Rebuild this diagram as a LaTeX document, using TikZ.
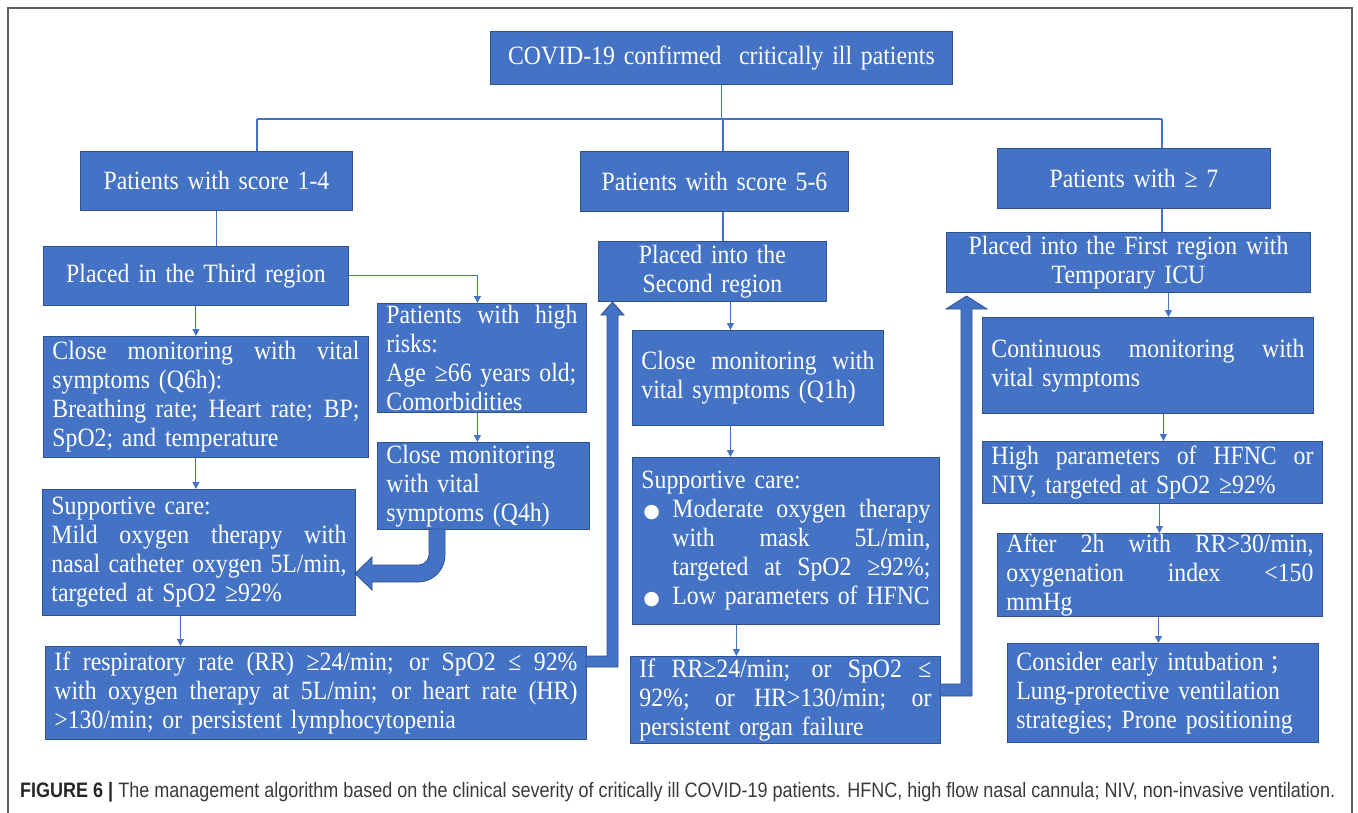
\documentclass[tikz,border=0pt]{standalone}
\usepackage{fontspec}
\usepackage{graphicx}
\setmainfont[FakeStretch=0.90]{Liberation Serif}
\newfontfamily\symfont{DejaVu Sans}
\newfontfamily\cjkfont{Noto Sans CJK SC}
\newfontfamily\capfont[FakeStretch=0.86]{Liberation Sans}
\usetikzlibrary{arrows.meta}
\definecolor{boxblue}{HTML}{4472C4}
\definecolor{boxedge}{HTML}{2F528F}
\definecolor{capgray}{HTML}{3A3A3A}
\newcommand\jl[1]{\leavevmode\hbox to\tw pt{\spaceskip=0.25em plus 1fil\relax\xspaceskip=0.25em plus 1fil\relax #1}}
\newcommand\nb[1]{\leavevmode\hbox{#1}}
\newcommand\bul{\leavevmode\hbox to31pt{\hskip2pt{\symfont\fontsize{19}{19}\selectfont ●}\hss}}
\newcommand\mybox[6][align=left]{%
  \pgfmathsetmacro\bw{#5-#3}\pgfmathsetmacro\bh{#6-#4}\pgfmathsetmacro\tw{#5-#3-18}%
  \node[box,#1,minimum width=\bw pt,minimum height=\bh pt,text width=\tw pt,anchor=north west] (#2) at (#3,#4)}
\tikzset{
  box/.style={draw=boxedge,fill=boxblue,line width=0.9pt,text=white,inner xsep=9pt,inner ysep=0pt,
    font=\fontsize{26.4}{29}\selectfont},
  tree/.style={draw=boxblue,line width=1.8pt},
  arr/.style={draw=boxblue,line width=1pt,-{Triangle[width=7pt,length=7pt]}},
  barrow/.style={fill=boxblue,draw=boxedge,line width=0.8pt,line join=miter}
}
\begin{document}
\begin{tikzpicture}[x=1pt,y=-1pt]
\useasboundingbox (0,0) rectangle (1358,812);
\fill[white] (0,0) rectangle (1358,812);
\draw[gray!75!black,line width=1.4pt] (8,830) -- (8,8) -- (1352,8) -- (1352,830);

% level 0 and 1
\mybox[align=center]{top}{490}{31}{952}{84}{COVID-19 confirmed\ \ critically ill patients};
\mybox[align=center]{s14}{80}{151}{352}{210}{Patients with score 1-4};
\mybox[align=center]{s56}{580}{151}{848}{211}{Patients with score 5-6};
\mybox[align=center]{s7}{997}{148}{1270}{208}{Patients with ≥ 7};

% regions
\mybox[align=center]{third}{43}{246}{348}{305}{Placed in the Third region};
\mybox[align=center]{second}{598}{241}{826}{301}{Placed into the\\Second region};
\mybox[align=center]{first}{946}{232}{1310}{292}{Placed into the First region with\\Temporary ICU};

% left column
\mybox{q6}{43}{336}{368}{457}{\jl{Close monitoring with vital}\\\nb{symptoms (Q6h):}\\\jl{Breathing rate; Heart rate; BP;}\\\nb{SpO2; and temperature}};
\mybox{supL}{42}{489}{355}{615}{\nb{Supportive care:}\\\jl{Mild oxygen therapy with}\\\jl{nasal catheter oxygen 5L/min,}\\\nb{targeted at SpO2 ≥92\%}};
\mybox{ifL}{45}{646}{586}{739}{\jl{If respiratory rate (RR) ≥24/min; or SpO2 ≤ 92\%}\\\jl{with oxygen therapy at 5L/min; or heart rate (HR)}\\\nb{>130/min; or persistent lymphocytopenia}};
\mybox{hr}{377}{303}{586}{412}{\jl{Patients with high}\\\nb{risks:}\\\nb{Age ≥66 years old;}\\\nb{Comorbidities}};
\mybox{q4}{377}{442}{589}{529}{\nb{Close monitoring}\\\nb{with vital}\\\nb{symptoms (Q4h)}};

% middle column
\mybox{q1}{632}{330}{883}{425}{\jl{Close monitoring with}\\\nb{vital symptoms (Q1h)}};
\mybox{supM}{632}{457}{939}{624}{\nb{Supportive care:}\\\jl{\bul Moderate oxygen therapy}\\\jl{\hskip31pt with mask 5L/min,}\\\jl{\hskip31pt targeted at SpO2 ≥92\%;}\\\nb{\bul Low parameters of HFNC}};
\mybox{ifM}{630}{656}{940}{743}{\jl{If RR≥24/min; or SpO2 ≤}\\\jl{92\%; or HR>130/min; or}\\\nb{persistent organ failure}};

% right column
\mybox{cont}{982}{317}{1313}{413}{\jl{Continuous monitoring with}\\\nb{vital symptoms}};
\mybox{hp}{982}{441}{1322}{503}{\jl{High parameters of HFNC or}\\\nb{NIV, targeted at SpO2 ≥92\%}};
\mybox{a2}{997}{533}{1322}{616}{\jl{After 2h with RR>30/min,}\\\jl{oxygenation index <150}\\\nb{mmHg}};
\mybox{cons}{1007}{643}{1318}{742}{\nb{Consider early intubation\hskip6pt{\cjkfont\fontsize{22}{29}\selectfont ；}}\\\nb{Lung-protective ventilation}\\\nb{strategies; Prone positioning}};

% tree connectors
\coordinate (busL) at (257,119);
\coordinate (busM) at (723,119);
\coordinate (busR) at (1162,119);
\draw[tree] (top.south) -- (top.south |- busL);
\draw[tree] (busL) -- (busR);
\draw[tree] (busL) -- (busL |- s14.north);
\draw[tree] (busM) -- (busM |- s56.north);
\draw[tree] (busR) -- (busR |- s7.north);
\draw[tree] (s14.south) -- (s14.south |- third.north);
\draw[tree] (s56.south -| busM) -- (second.north -| busM);
\draw[tree] (s7.south -| busR) -- (first.north -| busR);

% thin arrows
\draw[arr] (third.south) -- (third.south |- q6.north);
\draw[arr] (q6.south -| third.south) -- (supL.north -| third.south);
\draw[arr] ([xshift=-18.5pt]supL.south) -- ([xshift=-18.5pt]supL.south |- ifL.north);
\draw[arr] (third.east) -| ([xshift=-4.5pt]hr.north);
\draw[arr] ([xshift=-4.5pt]hr.south) -- ([xshift=-4.5pt]hr.south |- q4.north);
\draw[arr] ([xshift=18pt]second.south) -- ([xshift=18pt]second.south |- q1.north);
\draw[arr] ([xshift=-27.5pt]q1.south) -- ([xshift=-27.5pt]q1.south |- supM.north);
\draw[arr] ([xshift=-49.5pt]supM.south) -- ([xshift=-49.5pt]supM.south |- ifM.north);
\draw[arr] ([xshift=40pt]first.south) -- ([xshift=40pt]first.south |- cont.north);
\draw[arr] ([xshift=15.5pt]cont.south) -- ([xshift=15.5pt]cont.south |- hp.north);
\draw[arr] ([xshift=7pt]hp.south) -- ([xshift=7pt]hp.south |- a2.north);
\draw[arr] ([xshift=-1.5pt]a2.south) -- ([xshift=-1.5pt]a2.south |- cons.north);

% block arrows
\draw[barrow] (429,529) -- (445,529) -- (445,555) .. controls (445,570) and (433,582) .. (418,582)
  -- (372,582) -- (372,590) -- (355,573.5) -- (372,557) -- (372,565) -- (419,565)
  .. controls (424.5,565) and (429,559.5) .. (429,555) -- cycle;
\draw[barrow] (586,656) -- (607,656) -- (607,315) -- (601,315) -- (612.5,302) -- (624,315)
  -- (618,315) -- (618,667) -- (586,667) -- cycle;
\draw[barrow] (940,684) -- (961,684) -- (961,309) -- (946,309) -- (966.5,296) -- (987,309)
  -- (972,309) -- (972,696) -- (940,696) -- cycle;

% caption
\node[anchor=base west,inner sep=0pt,text=capgray] (cap) at (20,797)
  {\resizebox{1315pt}{!}{\capfont\fontsize{17}{20}\selectfont{\bfseries\color{black!85}FIGURE 6 |} The management algorithm based on the clinical severity of critically ill COVID-19 patients. HFNC, high flow nasal cannula; NIV, non-invasive ventilation.}};
\end{tikzpicture}
\end{document}
